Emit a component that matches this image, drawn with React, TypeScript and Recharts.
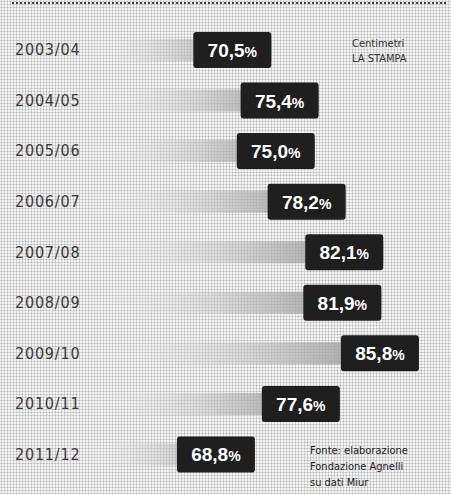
import React from "react"
import { Bar, BarChart, LabelList, XAxis, YAxis } from "recharts"

const years = ["2003/04", "2004/05", "2005/06", "2006/07", "2007/08", "2008/09", "2009/10", "2010/11", "2011/12"]
const shares = [70.5, 75.4, 75.0, 78.2, 82.1, 81.9, 85.8, 77.6, 68.8]
const sourceLines = ["Fonte: elaborazione", "Fondazione Agnelli", "su dati Miur"]
const creditLines = ["Centimetri", "LA STAMPA"]

const data = years.map((year, i) => ({ year, share: shares[i] }))

const YearTick = (props: any) => {
	const { y, payload } = props
	return (
		<text
			x={15}
			y={y}
			dy={5}
			textAnchor="start"
			fill="#3a3a3a"
			fontSize={16}
			letterSpacing={0.8}
			fontFamily="'DejaVu Sans Condensed', 'DejaVu Sans', sans-serif"
		>
			{payload.value}
		</text>
	)
}

const ValueBox = (props: any) => {
	const { x, y, width, height, value } = props
	const right = x + width
	const cy = y + height / 2
	const label = value.toFixed(1).replace(".", ",")
	return (
		<g>
			<rect x={right - 78} y={cy - 18} width={78} height={36} rx={3} fill="#1f1f1f" />
			<text
				x={right - 39}
				y={cy + 7}
				textAnchor="middle"
				fill="#ffffff"
				fontSize={19}
				fontWeight="bold"
				fontFamily="'Liberation Sans', Arial, sans-serif"
			>
				{label}
				<tspan fontSize={14}>%</tspan>
			</text>
		</g>
	)
}

export default function App() {
	return (
		<div
			style={{
				position: "absolute",
				left: 0,
				top: 0,
				width: 451,
				height: 494,
				backgroundColor: "#f4f4f4",
				backgroundImage: "radial-gradient(circle, #b8b8b8 0.9px, transparent 1.1px)",
				backgroundSize: "3px 3px",
				fontFamily: "'DejaVu Sans Condensed', 'DejaVu Sans', sans-serif",
			}}
		>
			<div
				style={{
					position: "absolute",
					left: 12,
					top: 2,
					width: 434,
					borderTop: "2px dotted #444",
				}}
			/>
			<BarChart
				width={451}
				height={494}
				data={data}
				layout="vertical"
				margin={{ top: 25, right: 6, bottom: 14, left: 0 }}
				barSize={22}
			>
				<defs>
					<linearGradient id="fade" x1="0" y1="0" x2="1" y2="0">
						<stop offset="0%" stopColor="#f0f0f0" stopOpacity={0} />
						<stop offset="60%" stopColor="#b5b5b5" stopOpacity={0.7} />
						<stop offset="100%" stopColor="#8a8a8a" stopOpacity={1} />
					</linearGradient>
				</defs>
				<XAxis type="number" domain={[51.5, 88.5]} allowDataOverflow hide />
				<YAxis
					type="category"
					dataKey="year"
					width={88}
					axisLine={false}
					tickLine={false}
					tick={<YearTick />}
				/>
				<Bar dataKey="share" fill="url(#fade)" isAnimationActive={false}>
					<LabelList dataKey="share" content={<ValueBox />} />
				</Bar>
			</BarChart>
			<div style={{ position: "absolute", left: 352, top: 36, fontSize: 11, lineHeight: "15px", color: "#333" }}>
				{creditLines.map((t) => (
					<div key={t}>{t}</div>
				))}
			</div>
			<div style={{ position: "absolute", left: 310, top: 443, fontSize: 11, lineHeight: "16px", color: "#222" }}>
				{sourceLines.map((t) => (
					<div key={t}>{t}</div>
				))}
			</div>
		</div>
	)
}
